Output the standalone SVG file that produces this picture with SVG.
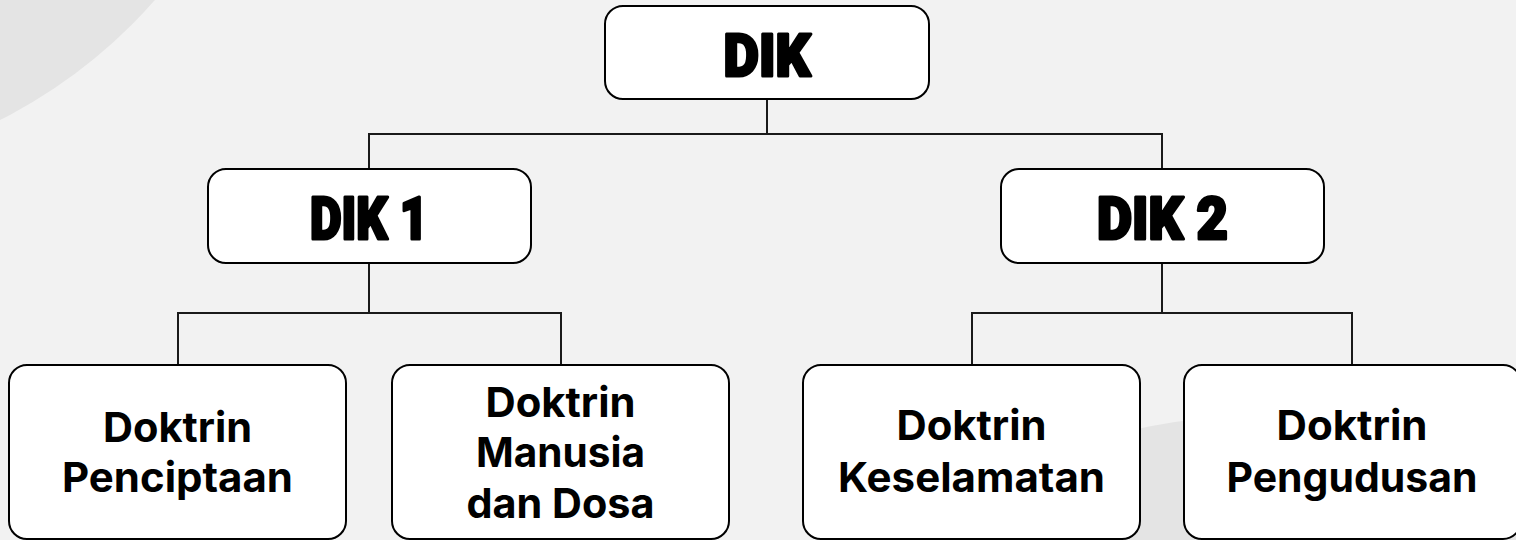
<svg xmlns="http://www.w3.org/2000/svg" width="1516" height="540" viewBox="0 0 1516 540">
<style>
.box{fill:#ffffff;stroke:#000000;stroke-width:2}
.con{fill:none;stroke:#1a1a1a;stroke-width:2}
.hd{font-family:Roboto,"Liberation Sans",sans-serif;font-weight:900;font-size:60px;fill:#000;stroke:#000;stroke-width:3;stroke-linejoin:round;text-anchor:middle}
.lf{font-family:Inter,"Liberation Sans",sans-serif;font-weight:700;font-size:41px;fill:#000;text-anchor:middle}
</style>
<rect x="0" y="0" width="1516" height="540" fill="#f2f2f2"/>
<circle cx="-231" cy="-338" r="513" fill="#e4e4e4"/>
<circle cx="1266" cy="1015" r="600" fill="#e4e4e4"/>
<g id="connectors">
<path class="con" d="M767 99V134M369 169V134H1162V169"/>
<path class="con" d="M369 263V313M178 365V313H561V365"/>
<path class="con" d="M1162 263V313M972 365V313H1352V365"/>
</g>
<g id="dik">
<rect class="box" x="605" y="6" width="324" height="93" rx="18"/>
<text class="hd" x="767" y="76" textLength="87" lengthAdjust="spacingAndGlyphs">DIK</text>
</g>
<g id="dik1">
<rect class="box" x="208" y="169" width="323" height="94" rx="18"/>
<text class="hd" x="369" y="239" textLength="118" lengthAdjust="spacingAndGlyphs">DIK 1</text>
</g>
<g id="dik2">
<rect class="box" x="1001" y="169" width="323" height="94" rx="18"/>
<text class="hd" x="1162.5" y="239" textLength="131" lengthAdjust="spacingAndGlyphs">DIK 2</text>
</g>
<g id="penciptaan">
<rect class="box" x="9" y="365" width="337" height="174" rx="18"/>
<text class="lf" x="177.5" y="441.7" textLength="149" lengthAdjust="spacingAndGlyphs">Doktrin</text>
<text class="lf" x="177.5" y="491.7" textLength="231" lengthAdjust="spacingAndGlyphs">Penciptaan</text>
</g>
<g id="manusia">
<rect class="box" x="392" y="365" width="337" height="174" rx="18"/>
<text class="lf" x="560.5" y="416.7" textLength="150" lengthAdjust="spacingAndGlyphs">Doktrin</text>
<text class="lf" x="560.5" y="467" textLength="169" lengthAdjust="spacingAndGlyphs">Manusia</text>
<text class="lf" x="560.5" y="518" textLength="188" lengthAdjust="spacingAndGlyphs">dan Dosa</text>
</g>
<g id="keselamatan">
<rect class="box" x="803" y="365" width="337" height="174" rx="18"/>
<text class="lf" x="971.5" y="440" textLength="150" lengthAdjust="spacingAndGlyphs">Doktrin</text>
<text class="lf" x="971.5" y="491.7" textLength="267" lengthAdjust="spacingAndGlyphs">Keselamatan</text>
</g>
<g id="pengudusan">
<rect class="box" x="1184" y="365" width="337" height="174" rx="18"/>
<text class="lf" x="1352" y="440" textLength="151" lengthAdjust="spacingAndGlyphs">Doktrin</text>
<text class="lf" x="1352" y="491.7" textLength="251" lengthAdjust="spacingAndGlyphs">Pengudusan</text>
</g>
</svg>
